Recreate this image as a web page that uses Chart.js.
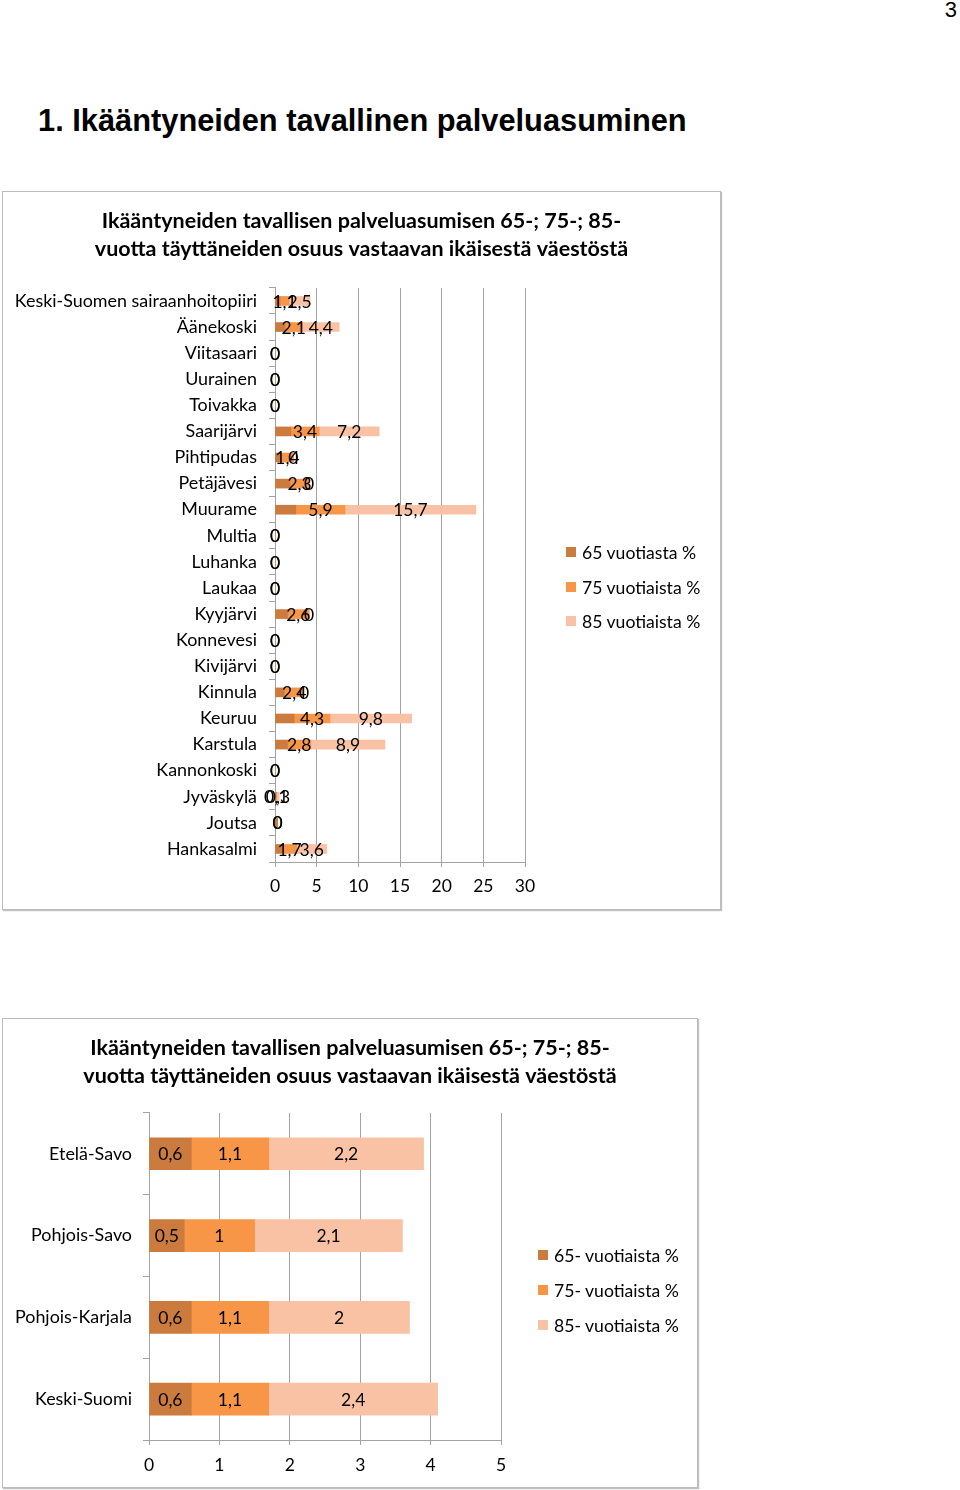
<!DOCTYPE html>
<html><head><meta charset="utf-8">
<script src="https://cdn.jsdelivr.net/npm/chart.js@4.4.1/dist/chart.umd.min.js"></script>
<style>
body{margin:0;background:#fff;width:960px;height:1490px;position:relative;overflow:hidden;font-family:Lato,sans-serif;}
.pagenum{position:absolute;right:3px;top:-3px;font:22px 'Liberation Sans',Arial,sans-serif;color:#000}
h1{position:absolute;left:38px;top:103px;margin:0;font:bold 30.8px 'Liberation Sans',Arial,sans-serif;white-space:nowrap;color:#000}
.box{position:absolute;border:1px solid #bcbcbc;box-shadow:1px 1px 1px rgba(0,0,0,.25);background:#fff}
.box canvas{display:block}
.lg{position:absolute;font:17.6px Lato,sans-serif;color:#000;display:flex;align-items:center;white-space:nowrap;height:20px}
.lg span{display:inline-block;width:10px;height:10px;margin-right:6px}
</style></head>
<body>
<div class="pagenum">3</div>
<h1>1. Ikääntyneiden tavallinen palveluasuminen</h1>
<div class="box" style="left:2px;top:191px;width:717px;height:717px"><canvas id="c1" width="717" height="717"></canvas></div>
<div class="box" style="left:2px;top:1018px;width:694px;height:468px"><canvas id="c2" width="694" height="468"></canvas></div>
<div id="legends"></div>
<script>
// ---- Chart 1 data ----
const categories1 = ['Keski-Suomen sairaanhoitopiiri','Äänekoski','Viitasaari','Uurainen','Toivakka','Saarijärvi','Pihtipudas','Petäjävesi','Muurame','Multia','Luhanka','Laukaa','Kyyjärvi','Konnevesi','Kivijärvi','Kinnula','Keuruu','Karstula','Kannonkoski','Jyväskylä','Joutsa','Hankasalmi'];
const seriesNames1 = ['65 vuotiasta %','75 vuotiaista %','85 vuotiaista %'];
const c1_65 = [0.6,1.2,0,0,0,1.9,0.8,1.8,2.5,0,0,0,1.5,0,0,1.1,2.3,1.5,0,0.1,0.3,0.9];
const c1_75 = [1.1,2.1,0,0,0,3.4,1.4,2.3,5.9,0,0,0,2.6,0,0,2.4,4.3,2.8,0,0.1,0,1.7];
const c1_85 = [2.5,4.4,0,0,0,7.2,0,0,15.7,0,0,0,0,0,0,0,9.8,8.9,0,0.3,0,3.6];
const ticks1 = [0,5,10,15,20,25,30];
const title1 = ['Ikääntyneiden tavallisen palveluasumisen 65-; 75-; 85-','vuotta täyttäneiden osuus vastaavan ikäisestä väestöstä'];

// ---- Chart 2 data ----
const categories2 = ['Etelä-Savo','Pohjois-Savo','Pohjois-Karjala','Keski-Suomi'];
const seriesNames2 = ['65- vuotiaista %','75- vuotiaista %','85- vuotiaista %'];
const c2_65 = [0.6,0.5,0.6,0.6];
const c2_75 = [1.1,1,1.1,1.1];
const c2_85 = [2.2,2.1,2,2.4];
const ticks2 = [0,1,2,3,4,5];
const title2 = ['Ikääntyneiden tavallisen palveluasumisen 65-; 75-; 85-','vuotta täyttäneiden osuus vastaavan ikäisestä väestöstä'];

const colors = ['#CB7B3E','#F79646','#F9C2A5'];
const FONT = "Lato, 'Open Sans', sans-serif";
const GRID = '#a3a3a3';

const fmt = v => String(v).replace('.', ',');

const segLabels = {
  id:'segLabels',
  afterDatasetsDraw(chart, args, opts){
    const ctx = chart.ctx;
    ctx.save();
    ctx.font = opts.font; ctx.fillStyle = '#000'; ctx.textAlign = 'center'; ctx.textBaseline = 'middle';
    chart.data.datasets.forEach((ds,i)=>{
      if (opts.skip && opts.skip.includes(i)) return;
      const meta = chart.getDatasetMeta(i);
      meta.data.forEach((el,j)=>{
        const p = el.getProps(['x','y','base'], true);
        ctx.fillText(fmt(ds.data[j]), (p.x+p.base)/2, p.y + (opts.dy||0));
      });
    });
    ctx.restore();
  }
};

function makeChart(id, cats, names, vals, ticks, title, cfg){
  return new Chart(document.getElementById(id), {
    type:'bar',
    data:{
      labels:cats,
      datasets: vals.map((d,i)=>({label:names[i], data:d, backgroundColor:colors[i], borderWidth:0, barThickness:cfg.bar}))
    },
    options:{
      indexAxis:'y', responsive:false, animation:false,
      layout:{padding:{left:0,right:0,top:0,bottom:cfg.padBottom}},
      scales:{
        x:{stacked:true, min:ticks[0], max:ticks[ticks.length-1],
           afterBuildTicks: s => { s.ticks = ticks.map(v=>({value:v})); },
           afterFit: s => { s.height = cfg.xh; },
           grid:{color:GRID, tickLength:5, lineWidth:1},
           border:{color:GRID},
           ticks:{font:{family:FONT,size:17.5}, color:'#000', padding:cfg.xpad, maxRotation:0}},
        y:{stacked:true,
           afterFit: s => { s.width = cfg.yw; },
           grid:{display:true, drawOnChartArea:false, offset:true, tickLength:6, color:GRID},
           border:{color:GRID},
           ticks:{font:{family:FONT,size:17.9}, color:'#000', padding:cfg.ypad, autoSkip:false}},
        space:{type:'linear', axis:'y', position:'right', display:true,
           grid:{display:false}, border:{display:false}, ticks:{display:false},
           afterFit: s => { s.width = cfg.padRight; }}
      },
      plugins:{
        legend:{display:false},
        tooltip:{enabled:false},
        title:{display:true, text:title, color:'#000', font:{family:FONT,size:21.5,weight:'bold',lineHeight:1.3}, padding:{top:cfg.tTop,bottom:cfg.tBottom}},
        segLabels:{font:'17.5px '+FONT, skip:cfg.skip, dy:1}
      }
    },
    plugins:[segLabels]
  });
}

makeChart('c1', categories1, seriesNames1, [c1_65,c1_75,c1_85], ticks1, title1,
  {bar:9, padRight:195, padBottom:7, xh:40, xpad:9, yw:272, ypad:12, tTop:15, tBottom:25, skip:[0]});
makeChart('c2', categories2, seriesNames2, [c2_65,c2_75,c2_85], ticks2, title2,
  {bar:32, padRight:196, padBottom:7, xh:40, xpad:10, yw:146, ypad:11, tTop:15, tBottom:23, skip:[]});

// legends
function legend(names, x, ys){
  const host = document.getElementById('legends');
  names.forEach((n,i)=>{
    const d = document.createElement('div');
    d.className='lg'; d.style.left=x+'px'; d.style.top=(ys[i]-10)+'px';
    d.innerHTML = '<span style="background:'+colors[i]+'"></span>';
    d.appendChild(document.createTextNode(n));
    host.appendChild(d);
  });
}
legend(seriesNames1, 566, [552,587,621]);
legend(seriesNames2, 538, [1255,1290,1325]);
</script>
</body></html>
